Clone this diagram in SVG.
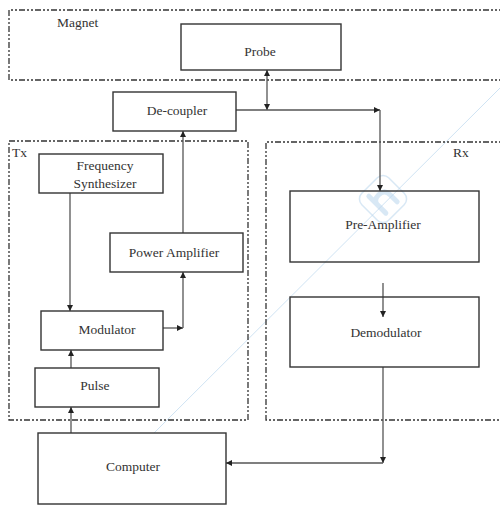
<svg xmlns="http://www.w3.org/2000/svg" width="500" height="506" viewBox="0 0 500 506">
  <defs>
    <marker id="arrow" viewBox="0 0 10 10" refX="10" refY="5" markerWidth="6" markerHeight="6" markerUnits="userSpaceOnUse" orient="auto">
      <path d="M0,0 L10,5 L0,10 Z" fill="#222"/>
    </marker>
    <marker id="arrow-start" viewBox="0 0 10 10" refX="0" refY="5" markerWidth="6" markerHeight="6" markerUnits="userSpaceOnUse" orient="auto">
      <path d="M10,0 L0,5 L10,10 Z" fill="#222"/>
    </marker>
  </defs>
  <style>
    .zone { fill: none; stroke: #333; stroke-width: 1.3; stroke-dasharray: 6 2 2 2 2 2; }
    .box { fill: #fff; stroke: #333; stroke-width: 1.4; }
    .open { fill: none; }
    .wire { fill: none; stroke: #555; stroke-width: 1.3; }
    text { font-family: 'Liberation Serif', 'Times New Roman', 'DejaVu Serif', serif; font-size: 13.5px; fill: #333; }
    .mid { text-anchor: middle; }
    .wm { fill: none; stroke: #cfe3f3; stroke-width: 1; }
  </style>

  <rect width="500" height="506" fill="#fff"/>

  <!-- faint background marks -->
  <g id="watermark">
    <line class="wm" x1="152" y1="435" x2="500" y2="88"/>
    <g transform="translate(383,199) rotate(-45)" opacity="0.55">
      <rect x="-19" y="-19" width="38" height="38" rx="8" fill="none" stroke="#b9d6ee" stroke-width="1.5"/>
      <path d="M-8,-12 V12 M-8,0 Q-8,-6 0,-6 Q8,-6 8,2 V12" fill="none" stroke="#b9d6ee" stroke-width="5" stroke-linecap="round"/>
    </g>
  </g>

  <g font-family="Liberation Serif, Times New Roman, serif">
  <!-- enclosures -->
  <g id="magnet">
    <path class="zone" d="M505,10 H9 V80 H505"/>
    <text x="57" y="27">Magnet</text>
  </g>
  <g id="tx">
    <rect class="zone" x="9" y="141" width="239" height="279"/>
    <text x="12" y="157">Tx</text>
  </g>
  <g id="rx">
    <path class="zone" d="M505,142 H266 V420 H505"/>
    <text x="453" y="157">Rx</text>
  </g>

  <!-- connectors -->
  <g id="connectors">
    <path class="wire" d="M267,70 V110" marker-start="url(#arrow-start)" marker-end="url(#arrow)"/>
    <path class="wire" d="M236,110 H380" marker-end="url(#arrow)"/>
    <path class="wire" d="M380,110 V191" marker-end="url(#arrow)"/>
    <path class="wire" d="M183,233 V131" marker-end="url(#arrow)"/>
    <path class="wire" d="M70,193 V311" marker-end="url(#arrow)"/>
    <path class="wire" d="M163,328 H183" marker-end="url(#arrow)"/>
    <path class="wire" d="M183,328 V272" marker-end="url(#arrow)"/>
    <path class="wire" d="M71,368 V350" marker-end="url(#arrow)"/>
    <path class="wire" d="M71,433 V407" marker-end="url(#arrow)"/>
    <path class="wire" d="M383,283 V317" marker-end="url(#arrow)"/>
    <path class="wire" d="M383,367 V463" marker-end="url(#arrow)"/>
    <path class="wire" d="M383,463 H226" marker-end="url(#arrow)"/>
  </g>

  <!-- blocks -->
  <g id="probe">
    <rect class="box" x="181" y="24" width="160" height="46"/>
    <text class="mid" x="260" y="56">Probe</text>
  </g>
  <g id="decoupler">
    <rect class="box" x="113" y="92" width="123" height="39"/>
    <text class="mid" x="177" y="115">De-coupler</text>
  </g>
  <g id="freq-synth">
    <rect class="box" x="39" y="154" width="124" height="39"/>
    <text class="mid" x="105" y="170">Frequency</text>
    <text class="mid" x="105" y="188">Synthesizer</text>
  </g>
  <g id="power-amp">
    <rect class="box" x="110" y="233" width="133" height="39"/>
    <text class="mid" x="174" y="257">Power Amplifier</text>
  </g>
  <g id="modulator">
    <rect class="box" x="41" y="311" width="122" height="39"/>
    <text class="mid" x="107" y="334">Modulator</text>
  </g>
  <g id="pulse">
    <rect class="box" x="35" y="368" width="124" height="39"/>
    <text class="mid" x="95" y="390">Pulse</text>
  </g>
  <g id="computer">
    <rect class="box" x="38" y="433" width="188" height="71"/>
    <text class="mid" x="133" y="471">Computer</text>
  </g>
  <g id="pre-amp">
    <rect class="box open" x="290" y="191" width="189" height="71"/>
    <text class="mid" x="383" y="229">Pre-Amplifier</text>
  </g>
  <g id="demodulator">
    <rect class="box open" x="290" y="297" width="189" height="70"/>
    <text class="mid" x="386" y="337">Demodulator</text>
  </g>
  </g>
</svg>
